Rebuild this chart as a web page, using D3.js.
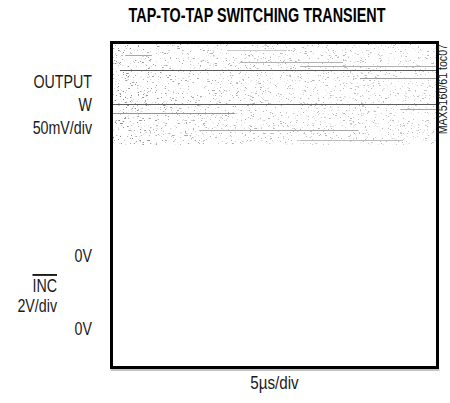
<!DOCTYPE html>
<html>
<head>
<meta charset="utf-8">
<script src="https://cdn.jsdelivr.net/npm/d3@7"></script>
<style>
  body { margin: 0; background: #fff; }
  svg { display: block; }
  text { font-family: "Liberation Sans", Arial, sans-serif; fill: #1a1a1a; }
</style>
</head>
<body>
<svg></svg>
<script>
// scope capture: 10 div wide (5us/div), 10 div tall
const timeDomain = [0, 50];          // us
const divDomain = [0, 10];           // divisions, bottom to top

// bright streaks in the OUTPUT W trace band
const streakY  = [9.77, 9.62, 9.40, 9.28, 9.15, 8.91, 8.11, 7.95, 7.83, 7.31, 7.00];
const streakT0 = [17.7, 2.1, 19.7, 28.9, 1.3, 38.1, 0.0, 44.3, 0.0, 13.6, 28.9];
const streakT1 = [26.9, 6.2, 35.5, 50.0, 50.0, 50.0, 50.0, 50.0, 18.9, 37.8, 44.7];
const streakShade = ['#cccccc', '#a8a8a8', '#b4b4b4', '#b0b0b0', '#5a5a5a', '#9c9c9c', '#5e5e5e', '#a8a8a8', '#949494', '#a8a8a8', '#bcbcbc'];

// extent of the smeared OUTPUT W trace (divisions)
const noiseBand = [6.85, 9.93];

const leftLabels = ['OUTPUT', 'W', '50mV/div', '0V', 'INC', '2V/div', '0V'];
const leftLabelDiv = [8.6, 7.89, 7.18, 3.25, 2.32, 1.71, 1.0];
const leftLabelRight = [92, 92, 92, 92, 57, 57, 92];

const title = 'TAP-TO-TAP SWITCHING TRANSIENT';
const xTitle = '5\u00b5s/div';
const figId = 'MAX5160/61 toc07';

let width = 450;
let height = 403;
let plotLeft = 111.5, plotRight = 437.5, plotTop = 42.5, plotBottom = 367.5;
let narrow = 0.75;   // condensed look

let svg = d3.select('svg').attr('width', width).attr('height', height);

let xScale = d3.scaleLinear().domain(timeDomain).range([plotLeft, plotRight]);
let yScale = d3.scaleLinear().domain(divDomain).range([plotBottom, plotTop]);

let defs = svg.append('defs');
let filt = defs.append('filter')
    .attr('id', 'speck')
    .attr('x', 0).attr('y', 0).attr('width', 1).attr('height', 1)
    .attr('color-interpolation-filters', 'sRGB');
filt.append('feTurbulence')
    .attr('type', 'fractalNoise')
    .attr('baseFrequency', '0.4 1.6')
    .attr('numOctaves', 3)
    .attr('seed', 5);
filt.append('feColorMatrix')
    .attr('type', 'matrix')
    .attr('values', '0 0 0 0 0.52  0 0 0 0 0.52  0 0 0 0 0.52  -10 0 0 0 3.5');

let fade = defs.append('linearGradient').attr('id', 'fade')
    .attr('x1', 0).attr('x2', 1).attr('y1', 0).attr('y2', 0);
fade.append('stop').attr('offset', 0).attr('stop-color', '#fff').attr('stop-opacity', 0);
fade.append('stop').attr('offset', 0.2).attr('stop-color', '#fff').attr('stop-opacity', 0.3);
fade.append('stop').attr('offset', 1).attr('stop-color', '#fff').attr('stop-opacity', 0.5);

// smeared trace band
let bandY = yScale(noiseBand[1]);
let bandH = yScale(noiseBand[0]) - yScale(noiseBand[1]);
svg.append('rect')
    .attr('x', xScale(0)).attr('y', bandY)
    .attr('width', xScale(50) - xScale(0)).attr('height', bandH)
    .attr('filter', 'url(#speck)');
svg.append('rect')
    .attr('x', xScale(0)).attr('y', bandY)
    .attr('width', xScale(50) - xScale(0)).attr('height', bandH)
    .attr('fill', 'url(#fade)');

svg.selectAll('line.streak')
    .data(streakY)
    .enter()
    .append('line')
        .attr('class', 'streak')
        .attr('x1', (d, i) => xScale(streakT0[i]))
        .attr('x2', (d, i) => xScale(streakT1[i]))
        .attr('y1', (d) => Math.round(yScale(d)) + 0.5)
        .attr('y2', (d) => Math.round(yScale(d)) + 0.5)
        .attr('stroke', (d, i) => streakShade[i])
        .attr('stroke-width', 1);

// frame
svg.append('line')
    .attr('x1', plotLeft - 1).attr('x2', plotRight + 2)
    .attr('y1', plotBottom + 2.5).attr('y2', plotBottom + 2.5)
    .attr('stroke', '#888').attr('stroke-width', 1);
svg.append('rect')
    .attr('x', plotLeft).attr('y', plotTop)
    .attr('width', plotRight - plotLeft).attr('height', plotBottom - plotTop)
    .attr('fill', 'none')
    .attr('stroke', '#000')
    .attr('stroke-width', 3);

// title, squeezed to the reference width
let titleText = svg.append('text')
    .attr('text-anchor', 'middle')
    .attr('font-size', 20)
    .attr('font-weight', 'bold')
    .style('fill', '#000')
    .text(title);
let titleScale = 257 / titleText.node().getComputedTextLength();
titleText.attr('transform', 'translate(257,22) scale(' + titleScale + ',1)');

// left labels
svg.selectAll('text.lbl')
    .data(leftLabels)
    .enter()
    .append('text')
        .attr('class', 'lbl')
        .attr('transform', (d, i) => 'translate(' + leftLabelRight[i] + ',' + yScale(leftLabelDiv[i]) + ') scale(' + narrow + ',1)')
        .attr('text-anchor', 'end')
        .attr('font-size', 19)
        .style('text-decoration', (d) => d === 'INC' ? 'overline' : null)
        .text((d) => d);

svg.append('text')
    .attr('transform', 'translate(' + ((plotLeft + plotRight) / 2) + ',389) scale(0.8,1)')
    .attr('text-anchor', 'middle')
    .attr('font-size', 19)
    .text(xTitle);

svg.append('text')
    .attr('transform', 'translate(447,44) rotate(-90) scale(0.85,1)')
    .attr('text-anchor', 'end')
    .attr('font-size', 12.5)
    .text(figId);
</script>
</body>
</html>
